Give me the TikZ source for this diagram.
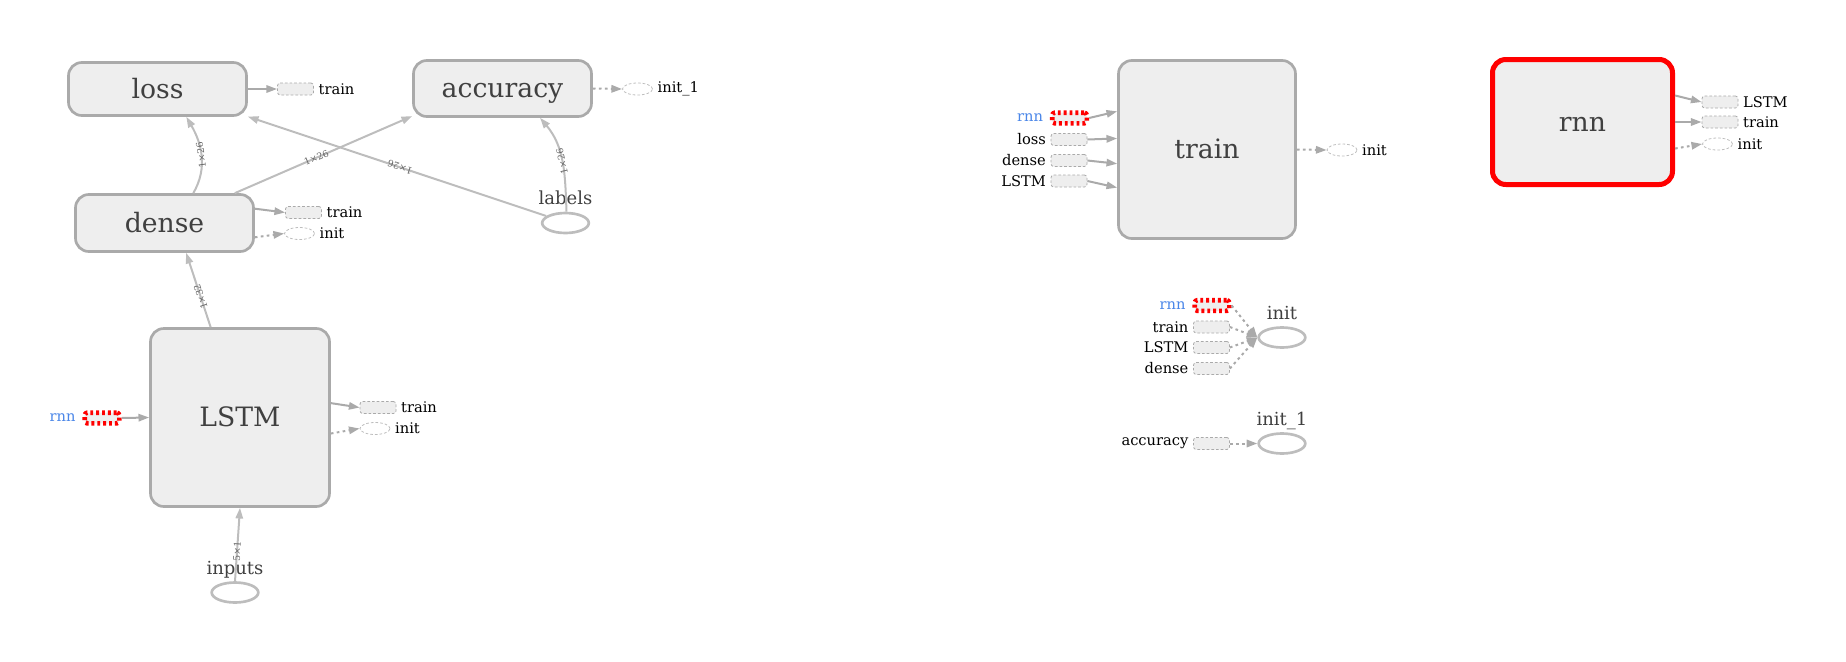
\documentclass[tikz,border=0pt]{standalone}
\usepackage{fontspec}
\setmainfont{DejaVu Serif}
\usetikzlibrary{arrows.meta}
\usetikzlibrary{shapes.geometric}
\definecolor{boxfill}{HTML}{EEEEEE}
\definecolor{boxline}{HTML}{AAAAAA}
\definecolor{edgeline}{HTML}{BDBDBD}
\definecolor{rnnblue}{HTML}{4A86E8}

\begin{document}
\begin{tikzpicture}[line join=round,>={Triangle[length=8pt,width=5.5pt]},x=0.75pt,y=-0.75pt,
  opbox/.style={draw=boxline,fill=boxfill,line width=2pt,rounded corners=10pt,text=black!75,font=\fontsize{20}{24}\selectfont,text height=15pt,text depth=1.5pt},
  datanode/.style={ellipse,draw=edgeline,line width=2pt,minimum width=35pt,minimum height=15pt,inner sep=0pt},
  datalbl/.style={font=\fontsize{13.5}{16}\selectfont,text=black!75,text height=10pt,text depth=3pt,label distance=-1.5pt},
  stub/.style={draw=boxline,fill=boxfill,dash pattern=on 2pt off 1.5pt,line width=0.6pt,rounded corners=2pt,minimum width=27pt,minimum height=9pt,inner sep=0pt},
  stubinit/.style={ellipse,draw=edgeline,dash pattern=on 2pt off 1.5pt,line width=0.6pt,minimum width=22.5pt,minimum height=9pt,inner sep=0pt},
  rnnstub/.style={stub,draw=red,line width=3.5pt,dash pattern=on 2.2pt off 2.2pt,minimum width=26pt,minimum height=8pt},
  slbl/.style={font=\fontsize{11}{13}\selectfont},
  rnnlbl/.style={slbl,text=rnnblue},
  dataedge/.style={->,draw=edgeline,line width=1.5pt},
  stubedge/.style={->,draw=boxline,line width=1.5pt},
  dotedge/.style={->,draw=boxline,line width=1.5pt,dash pattern=on 2pt off 2.5pt},
  elbl/.style={font=\fontsize{7}{8}\selectfont,text=black!60,sloped,allow upside down,inner sep=1pt}]
\useasboundingbox (0,0) rectangle (1846,661);
\node[opbox,minimum width=133.5pt,minimum height=39.75pt] (loss) at (157.5,89) {loss};
\node[opbox,minimum width=133.5pt,minimum height=42pt] (accuracy) at (502.5,88.5) {accuracy};
\node[opbox,minimum width=133.5pt,minimum height=42.75pt] (dense) at (164.5,223) {dense};
\node[opbox,minimum width=134.25pt,minimum height=133.5pt] (LSTM) at (240,417.5) {LSTM};
\node[datanode,label={[datalbl]above:labels}] (labels) at (565.5,223) {};
\node[datanode,label={[datalbl]above:inputs}] (inputs) at (235,592.5) {};
\node[stub,label={[slbl]right:train}] (losstrain) at (295.5,89) {};
\node[stubinit,label={[slbl]right:init\_1}] (accinit) at (637.5,89) {};
\node[stub,label={[slbl]right:train}] (densetrain) at (303.5,212.5) {};
\node[stubinit,label={[slbl]right:init}] (denseinit) at (299.5,233.5) {};
\node[stub,label={[slbl]right:train}] (lstmtrain) at (378,407.5) {};
\node[stubinit,label={[slbl]right:init}] (lstminit) at (375,428.5) {};
\node[rnnstub,label={[rnnlbl,label distance=1.5pt]left:rnn}] (lstmrnn) at (102,418) {};
\draw[dataedge] (dense.46) to[out=60,in=-60] node[elbl]{1×26} (loss.-44);
\draw[dataedge] (dense.23) -- node[elbl,pos=.46]{1×26} (accuracy.-163);
\draw[dataedge] (labels.160) -- node[elbl,pos=.49]{1×26} (loss.-17);
\draw[dataedge] (labels.85) to[out=92,in=-50] node[elbl]{1×26} (accuracy.-38);
\draw[dataedge] (LSTM.108) -- node[elbl,pos=.41]{1×32} (dense.-54);
\draw[dataedge] (inputs.north) -- node[elbl,pos=.41]{5×1} (LSTM.south);
\draw[stubedge] (loss.east) -- (losstrain.west);
\draw[dotedge] (accuracy.east) -- (accinit.west);
\draw[stubedge] (dense.9) -- (densetrain.west);
\draw[dotedge] (dense.-9) -- (denseinit.west);
\draw[stubedge] (LSTM.9) -- (lstmtrain.west);
\draw[dotedge] (LSTM.-10) -- (lstminit.west);
\draw[stubedge] (lstmrnn.east) -- (LSTM.west);
\node[opbox,minimum width=132.75pt,minimum height=133.5pt] (train) at (1207,149.5) {train};
\node[rnnstub,label={[rnnlbl,label distance=1.5pt]left:rnn}] (trnrnn) at (1069.5,118) {};
\node[stub,label={[slbl]left:loss}] (trnloss) at (1069,139.5) {};
\node[stub,label={[slbl]left:dense}] (trndense) at (1069,160.5) {};
\node[stub,label={[slbl]left:LSTM}] (trnlstm) at (1069,181) {};
\node[stubinit,label={[slbl]right:init}] (trninit) at (1342,150) {};
\draw[stubedge] (trnrnn.east) -- (train.157);
\draw[stubedge] (trnloss.east) -- (train.173);
\draw[stubedge] (trndense.east) -- (train.-171.5);
\draw[stubedge] (trnlstm.east) -- (train.-157.4);
\draw[dotedge] (train.east) -- (trninit.west);
\node[opbox,draw=red,line width=3.75pt,minimum width=135pt,minimum height=93.75pt] (rnn) at (1582.5,122) {rnn};
\node[stub,label={[slbl]right:LSTM}] (rnnlstm) at (1720,102) {};
\node[stub,label={[slbl]right:train}] (rnntrain) at (1720,122) {};
\node[stubinit,label={[slbl]right:init}] (rnninit) at (1717.5,144) {};
\draw[stubedge] (rnn.16) -- (rnnlstm.west);
\draw[stubedge] (rnn.east) -- (rnntrain.west);
\draw[dotedge] (rnn.-16) -- (rnninit.west);
\node[datanode,label={[datalbl]above:init}] (init) at (1282,337.5) {};
\node[rnnstub,label={[rnnlbl,label distance=1.5pt]left:rnn}] (initrnn) at (1212,305.5) {};
\node[stub,label={[slbl]left:train}] (inittrain) at (1211.5,327) {};
\node[stub,label={[slbl]left:LSTM}] (initlstm) at (1211.5,347.5) {};
\node[stub,label={[slbl]left:dense}] (initdense) at (1211.5,368.5) {};
\foreach \s in {initrnn,inittrain,initlstm,initdense}
  \draw[dotedge] (\s.east) -- (init.west);
\node[datanode,label={[datalbl]above:init\_1}] (init1) at (1282,443.5) {};
\node[stub,label={[slbl]left:accuracy}] (initacc) at (1211.5,443.5) {};
\draw[dotedge] (initacc.east) -- (init1.west);
\end{tikzpicture}
\end{document}
